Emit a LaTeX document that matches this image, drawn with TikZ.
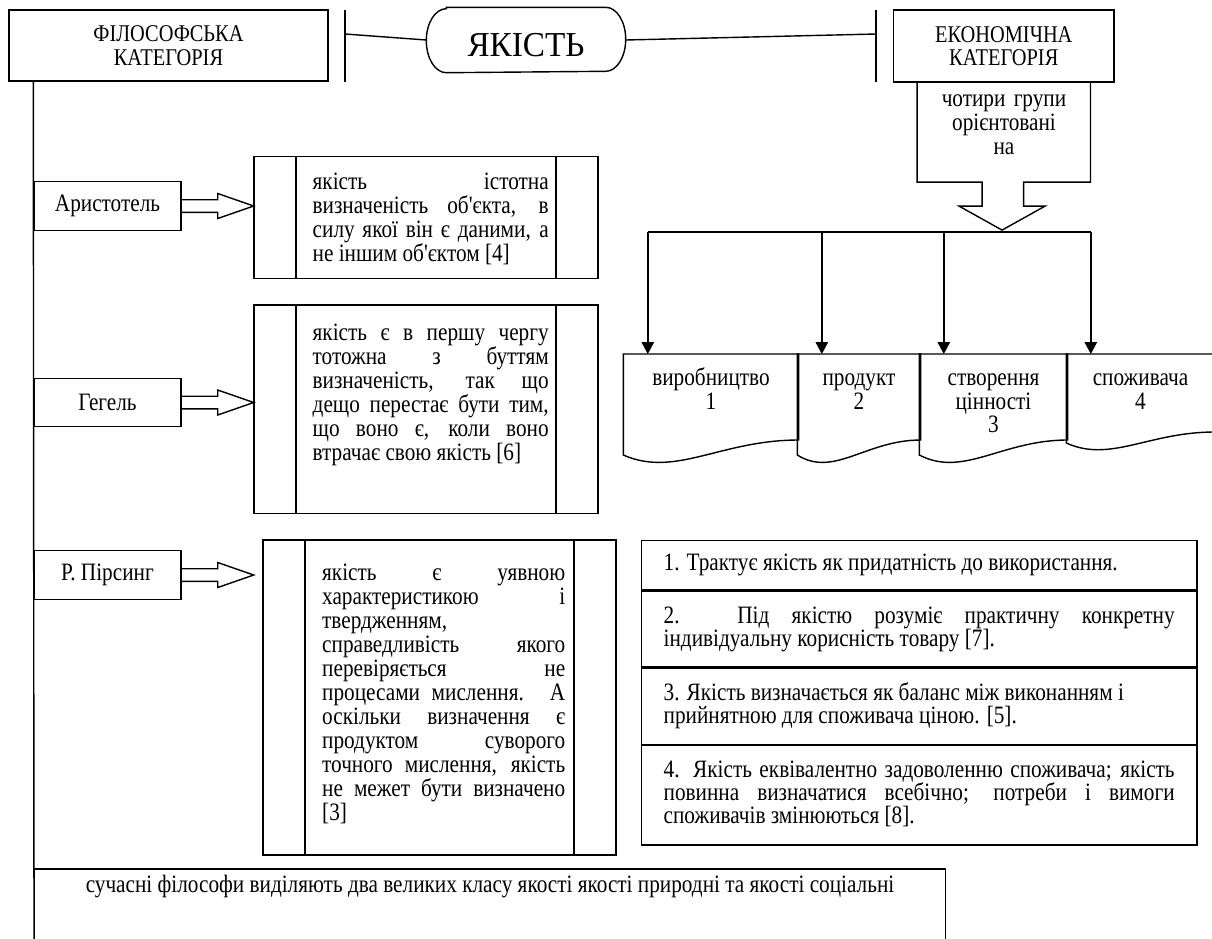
\documentclass[tikz,border=0pt]{standalone}
\usepackage{fontspec}
\setmainfont{Liberation Serif}[FakeStretch=0.85]
\newfontfamily\titleserif{Liberation Serif}[FakeStretch=0.95]
\newfontfamily\plainserif{Liberation Serif}[FakeStretch=0.85]
\usetikzlibrary{arrows.meta, positioning, calc}

\newcommand{\bodyfont}{\fontsize{25}{24}\selectfont}
\newcommand{\headfont}{\fontsize{24}{23.5}\selectfont}
\newcommand{\apos}{{\plainserif'}}
\newcommand{\topstrut}{\rule{0pt}{18pt}}

\begin{document}
\begin{tikzpicture}[x=1pt, y=-1pt, line width=1.4pt, font=\bodyfont,
    catbox/.style={draw, align=center, font=\headfont, inner sep=0pt},
    namebox/.style={draw, minimum width=147pt, minimum height=48.5pt, inner sep=0pt},
    quotebox/.style={draw, inner sep=0pt, path picture={
        \draw ([xshift=42pt]path picture bounding box.north west) -- ([xshift=42pt]path picture bounding box.south west);
        \draw ([xshift=-42pt]path picture bounding box.north east) -- ([xshift=-42pt]path picture bounding box.south east);}},
    quotetext/.style={anchor=north west, inner sep=0pt, align=justify},
    listbox/.style={draw, text width=511pt, inner xsep=22.15pt, inner ysep=0pt, align=justify,
        font=\fontsize{25}{23}\selectfont},
    doctext/.style={anchor=north, align=center, inner xsep=5pt, inner ysep=13pt,
        font=\fontsize{25}{23.5}\selectfont},
    feed/.style={-{Triangle[width=12.5pt, length=12pt]}}]
    \path[use as bounding box, clip] (0,0) rectangle (1212,938);

    % top row
    \node[catbox, minimum width=319pt, minimum height=71pt] (phil) at (168.5,45.5) {ФІЛОСОФСЬКА\\КАТЕГОРІЯ};
    \node[minimum width=198pt, minimum height=64pt, inner sep=0pt,
        font=\titleserif\fontsize{35}{35}\selectfont, text height=32pt, text depth=0pt] (quality) at (526,40) {ЯКІСТЬ};
    \draw ([xshift=20pt]quality.north west) -- ([xshift=-20pt]quality.north east)
        arc[start angle=-90, end angle=90, x radius=20, y radius=32]
        -- ([xshift=20pt]quality.south west)
        arc[start angle=90, end angle=270, x radius=20, y radius=32] -- cycle;
    \node[catbox, minimum width=220.5pt, minimum height=72pt] (econ) at (1003.75,46) {ЕКОНОМІЧНА\\КАТЕГОРІЯ};

    \coordinate (barL) at (345,34);
    \coordinate (barR) at (876,34);
    \draw ([yshift=24pt]barL) -- ([yshift=-48pt]barL);
    \draw ([yshift=24pt]barR) -- ([yshift=-48pt]barR);
    \draw (barL) -- (quality.west);
    \draw (quality.east) -- (barR);

    % economic side
    \node[minimum width=172pt, minimum height=98pt, inner sep=0pt, below=0pt of econ] (groups) {};
    \draw (groups.north west) -- (groups.south west) -- ++(65,0) -- ++(0,24) -- ++(-23,0) -- ++(43,24)
        -- ++(43,-24) -- ++(-21.5,0) -- ++(0,-24) -- (groups.south east) -- (groups.north east);
    \node[anchor=north, align=center, text width=150pt, inner sep=0pt] (groupstext) at (1004,88) {\topstrut чотири групи\\орієнтовані\\на};

    \node[doctext, text width=164pt] (doc1) at (711,354) {\topstrut виробництво\\1};
    \node[doctext, text width=112pt] (doc2) at (859,354) {\topstrut продукт\\2};
    \node[doctext, text width=137pt] (doc3) at (993.5,354) {\topstrut створення\\цінності\\3};
    \node[doctext, text width=137pt] (doc4) at (1140.5,354) {\topstrut споживача\\4};
    \foreach \dn/\w/\bl/\br/\dip in {doc1/174/101/86/23, doc2/122/101/86/23, doc3/147/101/86/23, doc4/147/89/78/20}
        \draw (\dn.north west) -- (\dn.north east) -- ++(0,\br)
            .. controls +(-0.45*\w,0) and +(0.3*\w,\dip) .. ($(\dn.north west)+(0,\bl)$) -- cycle;

    \coordinate (hub) at (1004,232);
    \coordinate (topdoc1) at ($(doc1.north west)+(24.5,0)$);
    \coordinate (topdoc2) at ($(doc2.north west)+(24.5,0)$);
    \coordinate (topdoc3) at ($(doc3.north west)+(24.5,0)$);
    \coordinate (topdoc4) at ($(doc4.north west)+(24.5,0)$);
    \draw (hub -| topdoc1) -- (hub -| topdoc4);
    \foreach \dn in {doc1,doc2,doc3,doc4}
        \draw[feed] (hub -| top\dn) -- (top\dn);

    \node[listbox, minimum height=49.3pt, anchor=north] (r1) at (919.15,540) {\topstrut 1. Трактує якість як придатність до використання.\strut};
    \node[listbox, minimum height=75.7pt, below=0pt of r1] (r2) {\topstrut 2. Під якістю розуміє практичну конкретну\linebreak індивідуальну корисність товару [7].\strut};
    \node[listbox, minimum height=75.7pt, below=0pt of r2] (r3) {\topstrut 3. Якість визначається як баланс між виконанням і\\прийнятною для споживача ціною. [5].\strut};
    \node[listbox, minimum height=99.3pt, below=0pt of r3] (r4) {\topstrut 4. Якість еквівалентно задоволенню споживача; якість\linebreak повинна визначатися всебічно; потреби і вимоги\linebreak споживачів змінюються [8].\strut};

    % philosophical side
    \coordinate (spineend) at (34,940);
    \draw ([xshift=25pt]phil.south west) -- (spineend);

    \node[namebox] (arist) at (107.5,206) {Аристотель};
    \node[namebox] (hegel) at (107.5,402.5) {Гегель};
    \node[namebox] (pirs) at (107.5,575) {Р. Пірсинг};
    \foreach \who in {arist,hegel,pirs}
        \draw ($(\who.east)+(0,-6.3)$) -- ++(36,0) -- ++(0,-6.2) -- ++(36,12.5) -- ++(-36,12.5) -- ++(0,-6.2) -- ++(-36,0);

    \node[quotebox, minimum width=344pt, minimum height=121.6pt] (aristbox) at (426,217.5) {};
    \node[quotebox, minimum width=344pt, minimum height=208.3pt] (hegelbox) at (426,409.2) {};
    \node[quotebox, minimum width=353pt, minimum height=315pt] (pirsbox) at (439.5,697.5) {};

    \node[quotetext, text width=236pt] (aristtext) at (312,170.3) {\topstrut якість істотна\linebreak визначеність об\apos єкта, в\linebreak силу якої він є даними, а\linebreak не іншим об\apos єктом [4]};
    \node[quotetext, text width=236pt] (hegeltext) at (312,321.8) {\topstrut якість є в першу чергу\linebreak тотожна з буттям\linebreak визначеність, так що\linebreak дещо перестає бути тим,\linebreak що воно є, коли воно\linebreak втрачає свою якість [6]};
    \node[quotetext, text width=243pt] (pirstext) at (321.5,561.8) {\topstrut якість є уявною\linebreak характеристикою і\linebreak твердженням,\linebreak справедливість якого\linebreak перевіряється не\linebreak процесами мислення. А\linebreak оскільки визначення є\linebreak продуктом суворого\linebreak точного мислення, якість\linebreak не межет бути визначено\linebreak{}[3]};

    \node[draw, anchor=north west, minimum width=911pt, minimum height=90pt, inner sep=0pt] (modern) at (34,868.3) {};
    \node[anchor=base, inner sep=0pt] (moderntext) at (490,892.8) {сучасні філософи виділяють два великих класу якості якості природні та якості соціальні};
\end{tikzpicture}
\end{document}
